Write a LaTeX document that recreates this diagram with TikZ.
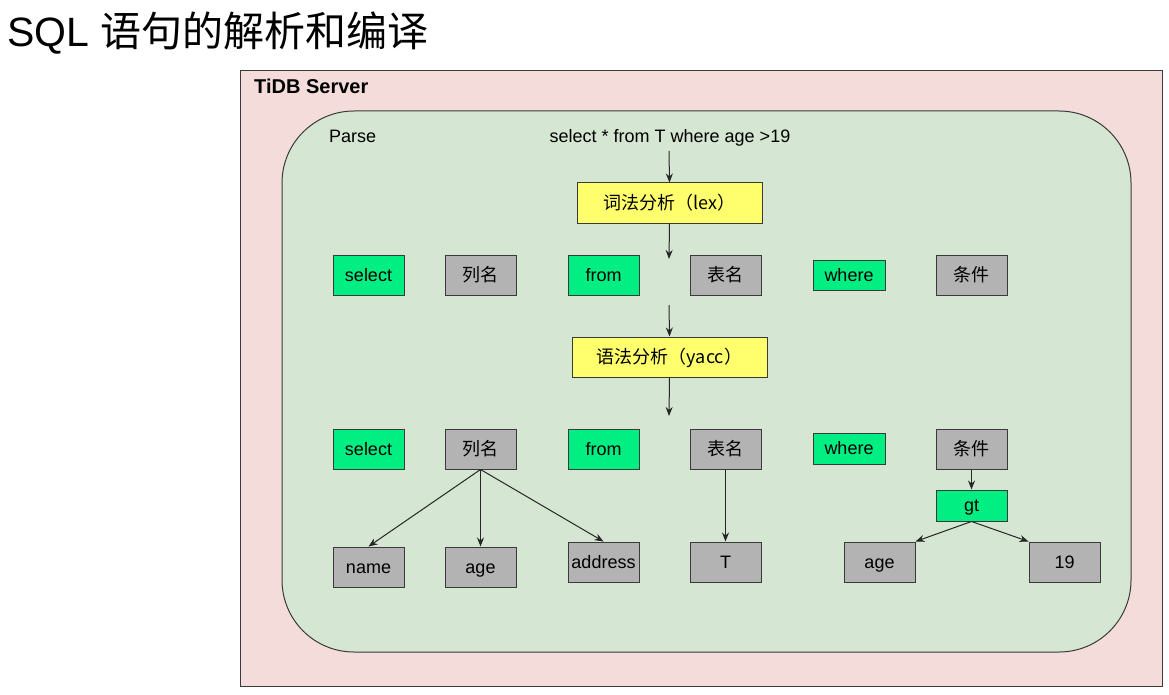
\documentclass[tikz,border=0pt]{standalone}
\usepackage{fontspec}
\setmainfont{Liberation Sans}
\newfontfamily\cjk{Noto Sans CJK SC}
\usetikzlibrary{arrows.meta}
\definecolor{outerfill}{HTML}{F3DCD9}
\definecolor{innerfill}{HTML}{D5E6D2}
\definecolor{kwgreen}{HTML}{00EE82}
\definecolor{idgray}{HTML}{B3B3B3}
\definecolor{stepyellow}{HTML}{FFFF6E}
\definecolor{edge}{HTML}{3A3A3A}
\begin{document}
\begin{tikzpicture}[x=1pt,y=-1pt,
  box/.style={draw=edge, line width=1pt, minimum width=71pt, minimum height=40pt, inner sep=0pt, text height=12.5pt, text depth=0pt, font=\fontsize{18}{20}\selectfont},
  kw/.style={box, fill=kwgreen},
  ident/.style={box, fill=idgray},
  stagebox/.style={box, fill=stepyellow, minimum height=40pt},
  conn/.style={draw=black!85, line width=1pt, -{Stealth[length=9pt,width=7pt]}},
  lbl/.style={inner sep=0pt, font=\fontsize{18}{20}\selectfont}]
\useasboundingbox (0,0) rectangle (1169,695);
\fill[white] (0,0) rectangle (1169,695);
% title
\node[anchor=base west, inner sep=0pt, font=\fontsize{41}{44}\selectfont] (title) at (7,47) {SQL {\cjk 语句的解析和编译}};
% containers
\draw[edge, line width=1pt, fill=outerfill] (240,71) rectangle (1162,686);
\draw[edge, line width=1pt, fill=innerfill, rounded corners=72pt] (282,111) rectangle (1131,652);
\node[anchor=base west, inner sep=0pt, font=\fontsize{20}{22}\selectfont\bfseries] (server) at (254,94) {TiDB Server};
\node[anchor=base west, lbl] (parse) at (329,143) {Parse};
\node[anchor=base, lbl] (query) at (670,143) {select * from T where age >19};
\coordinate (qs) at (669,151);
% stages
\node[stagebox, minimum width=185pt] (lex) at (669.5,203) {\cjk 词法分析（lex）};
\node[stagebox, minimum width=195pt] (yacc) at (669.5,357) {\cjk 语法分析（yacc）};
\coordinate (lexout) at (669,259);
\coordinate (yaccin) at (669,305);
\coordinate (yaccout) at (669,416);
% row 1
\node[kw] (sel1) at (368.5,275) {select};
\node[ident] (col1) at (480.5,275) {\cjk 列名};
\node[kw] (from1) at (603.5,275) {from};
\node[ident] (tab1) at (725.5,275) {\cjk 表名};
\node[kw, minimum width=72pt, minimum height=30pt] (where1) at (849,275) {where};
\node[ident] (cond1) at (971.5,275) {\cjk 条件};
% row 2
\node[kw] (sel2) at (368.5,449) {select};
\node[ident] (col2) at (480.5,449) {\cjk 列名};
\node[kw] (from2) at (603.5,449) {from};
\node[ident] (tab2) at (725.5,449) {\cjk 表名};
\node[kw, minimum width=72pt, minimum height=31pt] (where2) at (849,448.5) {where};
\node[ident] (cond2) at (971.5,449) {\cjk 条件};
\node[kw, minimum height=31pt] (gt) at (971.5,505.5) {gt};
% row 3
\node[ident] (name) at (368.5,567) {name};
\node[ident] (age) at (480.5,567) {age};
\node[ident] (addr) at (603.5,562) {address};
\node[ident] (tname) at (725.5,562) {T};
\node[ident] (age2) at (879.5,562) {age};
\node[ident] (n19) at (1064.5,562) {19};
% connectors
\draw[conn] (qs) -- (lex.north);
\draw[conn] (lex.south) -- (lexout);
\draw[conn] (yaccin) -- (yacc.north);
\draw[conn] (yacc.south) -- (yaccout);
\draw[conn] (col2.south) -- (name.north);
\draw[conn] (col2.south) -- (age.north);
\draw[conn] (col2.south) -- (addr.north);
\draw[conn] (tab2.south) -- (tname.north);
\draw[conn] (cond2.south) -- (gt.north);
\draw[conn] (gt.south) -- (age2.north east);
\draw[conn] (gt.south) -- (n19.north west);
\end{tikzpicture}
\end{document}
